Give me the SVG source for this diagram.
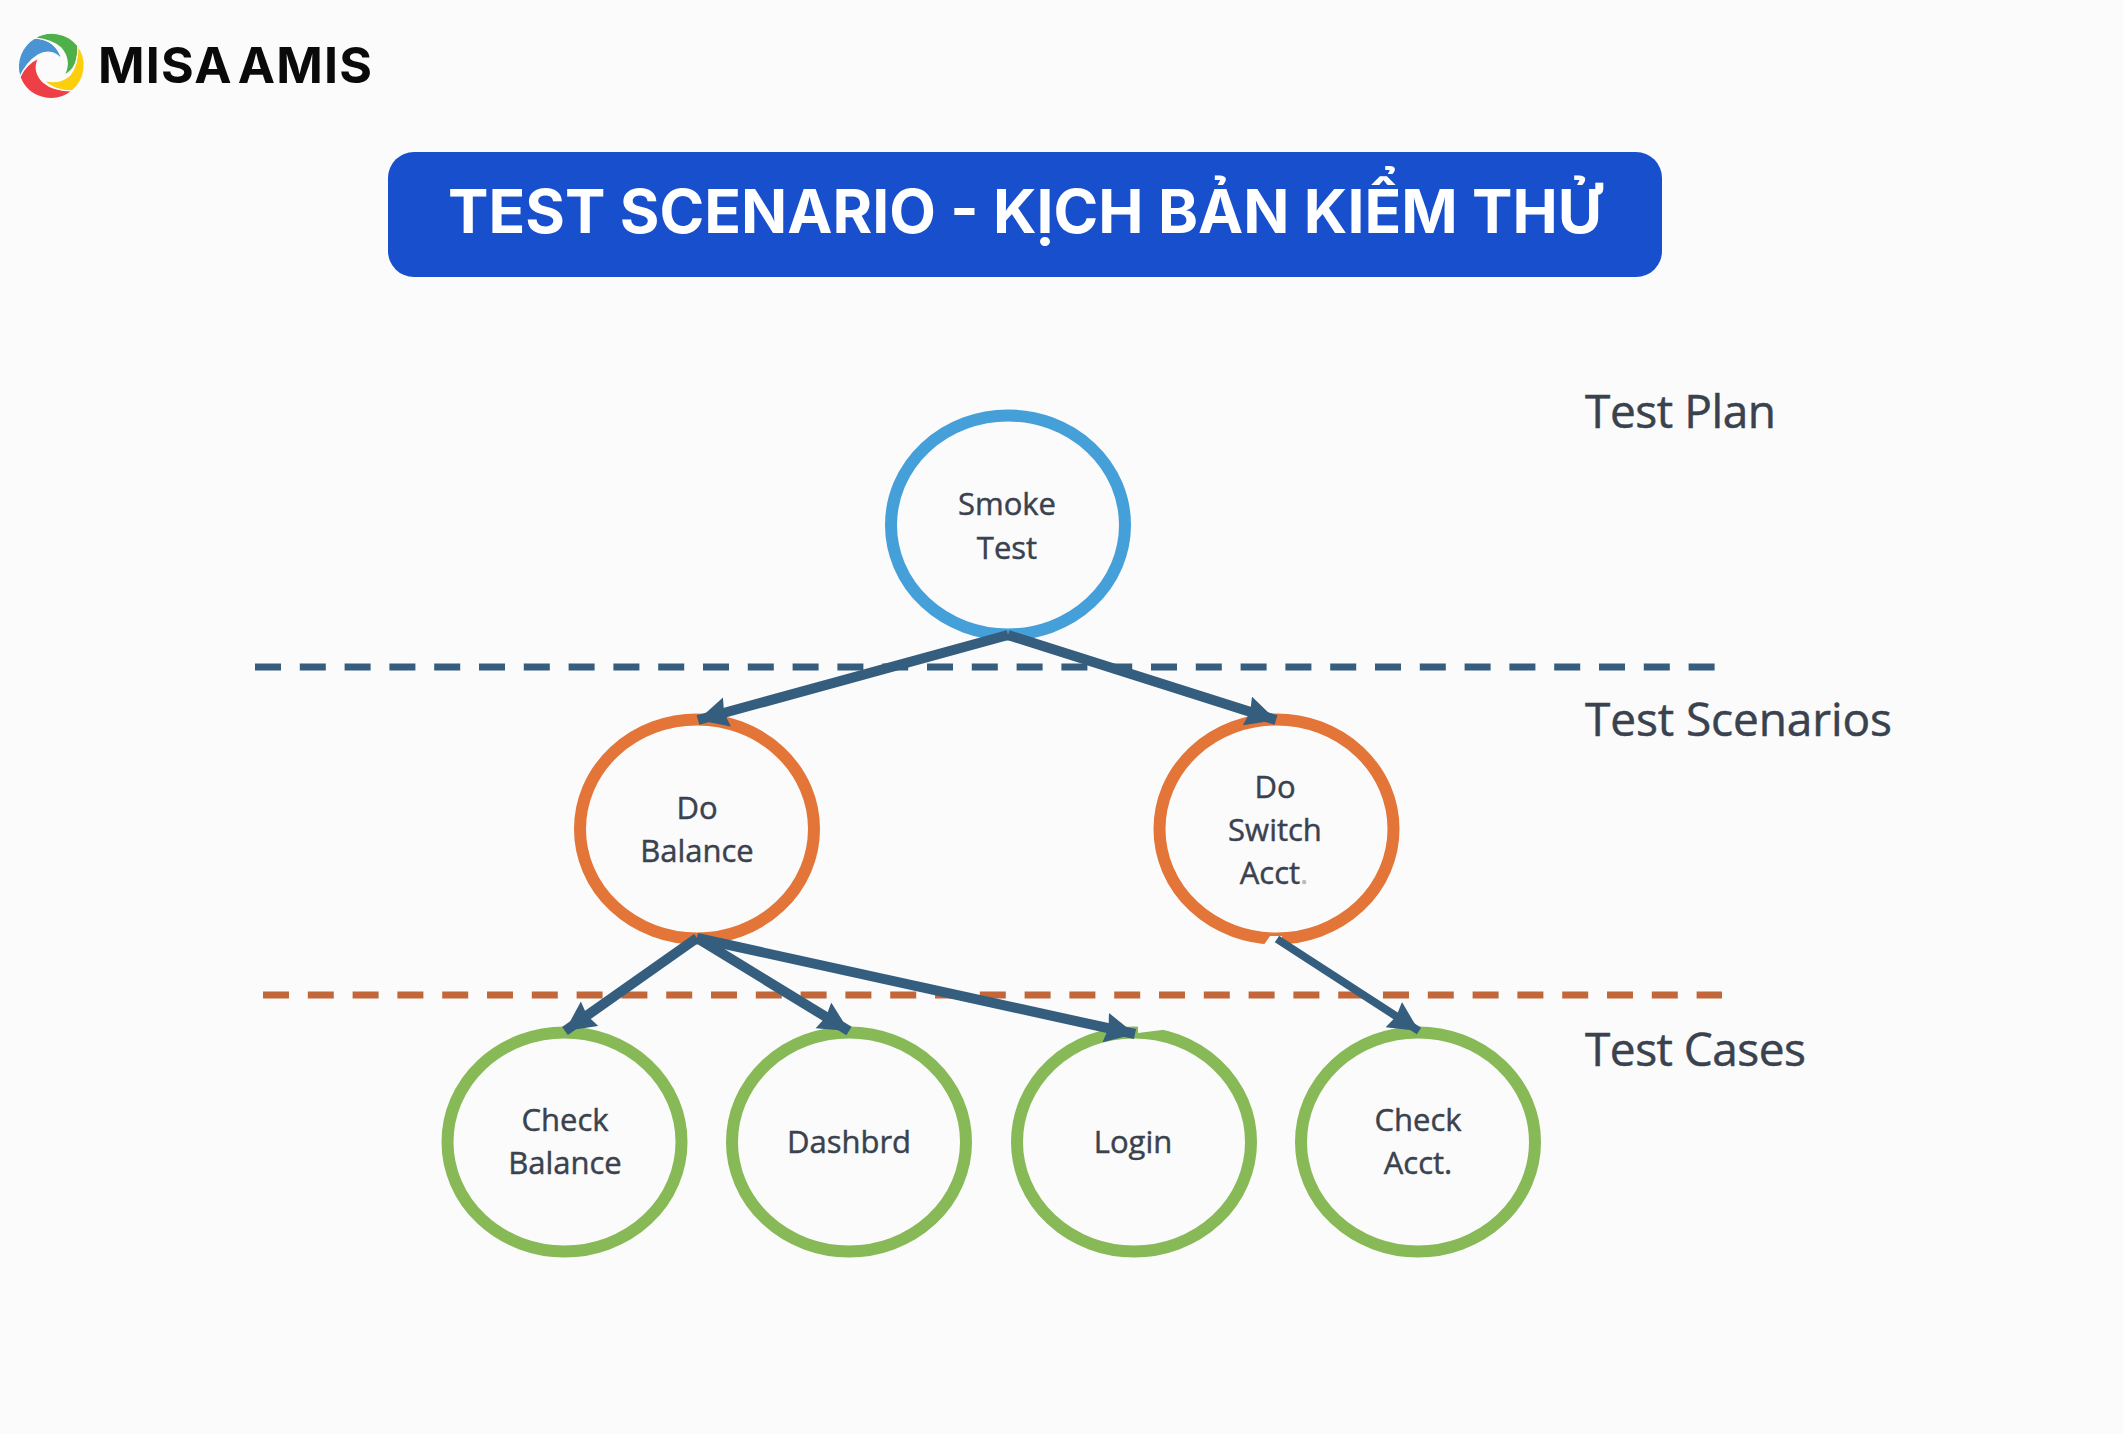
<svg xmlns="http://www.w3.org/2000/svg" width="2123" height="1434" viewBox="0 0 2123 1434">
<style>
.n{fill:none;stroke-width:12}
.t{font-family:"Open Sans","Noto Sans",sans-serif;font-size:31px;fill:#39424e;text-anchor:middle;stroke:#39424e;stroke-width:.45}
.l{font-family:"Open Sans","Noto Sans",sans-serif;font-size:46px;fill:#39424e;stroke:#39424e;stroke-width:.5}
.c{stroke:#345d7e;stroke-width:10;fill:none}
.blue{stroke:#459fd9}.or{stroke:#e27537}.gr{stroke:#87b957}
.s{stroke:#fbfbfb;stroke-width:1.2}
</style>
<defs><marker id="a" markerUnits="userSpaceOnUse" markerWidth="34" markerHeight="32" refX="30" refY="15" orient="auto"><path d="M0 0L30 15L0 30L3 15Z" fill="#345d7e"/></marker></defs>
<rect width="2123" height="1434" fill="#fbfbfb"/>
<g id="logo">
<path class="s" d="M20 77A33 33 0 0 1 35 38C47 39 58 45 62 60C55 50 45 51 38 55C30 60 24 68 20 77Z" fill="#4a94d3"/>
<path class="s" d="M35 38A33 33 0 0 1 78 46C78 58 76 70 64 75C70 65 67 55 61 48C55 42 45 39 35 38Z" fill="#4fb04a"/>
<path class="s" d="M78 46A33 33 0 0 1 72 91C60 91 50 87 43 80C52 83 62 82 70 75C76 68 78 58 78 46Z" fill="#fbcf0e"/>
<path class="s" d="M72 91A33 33 0 0 1 20 77C24 68 30 62 39 58C34 66 36 75 43 82C50 88 60 91 72 91Z" fill="#ee3f46"/>
<text x="98" y="83" font-family="Inter,'Liberation Sans',sans-serif" font-size="50" font-weight="700" fill="#0a0a0a" word-spacing="-8" textLength="274">MISA AMIS</text>
</g>
<g id="title">
<rect x="388" y="152" width="1274" height="125" rx="26" fill="#174fcd"/>
<text x="1025" y="233" text-anchor="middle" font-family="Inter,'Noto Sans',sans-serif" font-size="60" font-weight="700" fill="#fff" textLength="1154" lengthAdjust="spacingAndGlyphs">TEST SCENARIO - KỊCH BẢN KIỂM THỬ</text>
</g>
<g id="separators">
<line x1="255" y1="667" x2="1715" y2="667" stroke="#345d7e" stroke-width="7" stroke-dasharray="26 18.8"/>
<line x1="263" y1="995" x2="1722" y2="995" stroke="#c2673a" stroke-width="7" stroke-dasharray="26 18.8"/>
</g>
<g id="smoke"><ellipse class="n blue" cx="1008" cy="525" rx="117" ry="109.5"/><text class="t" x="1007" y="515">Smoke</text><text class="t" x="1007" y="559">Test</text></g>
<g id="do-balance"><ellipse class="n or" cx="697" cy="829" rx="117" ry="109.5"/><text class="t" x="697" y="819">Do</text><text class="t" x="697" y="862">Balance</text></g>
<g id="do-switch"><ellipse class="n or" cx="1276.500" cy="829" rx="117" ry="109.5"/><text class="t" x="1275" y="798">Do</text><text class="t" x="1275" y="841">Switch</text><text class="t" x="1274" y="884">Acct<tspan opacity=".35">.</tspan></text><path d="M1263 946L1270 936H1282V946Z" fill="#fbfbfb"/></g>
<g id="check-balance"><ellipse class="n gr" cx="564.500" cy="1142" rx="117" ry="109.5"/><text class="t" x="565" y="1131">Check</text><text class="t" x="565" y="1174">Balance</text></g>
<g id="dashbrd"><ellipse class="n gr" cx="849" cy="1142" rx="117" ry="109.5"/><text class="t" x="849" y="1153">Dashbrd</text></g>
<g id="login"><ellipse class="n gr" cx="1134" cy="1142" rx="117" ry="109.5"/><path d="M1138 1024H1165L1162 1030L1138 1033Z" fill="#fbfbfb"/><text class="t" x="1133" y="1153">Login</text></g>
<g id="check-acct"><ellipse class="n gr" cx="1418" cy="1142" rx="117" ry="109.5"/><text class="t" x="1418" y="1131">Check</text><text class="t" x="1418" y="1174">Acct.</text></g>
<g id="connectors">
<line class="c" x1="1008" y1="635" x2="698" y2="720" marker-end="url(#a)"/>
<line class="c" x1="1008" y1="635" x2="1276" y2="720" marker-end="url(#a)"/>
<line class="c" x1="697" y1="938" x2="565" y2="1031" marker-end="url(#a)"/>
<line class="c" x1="697" y1="938" x2="849" y2="1031" marker-end="url(#a)"/>
<line class="c" x1="697" y1="938" x2="1135" y2="1034" marker-end="url(#a)"/>
<line class="c" style="stroke-width:8" x1="1277" y1="939" x2="1419" y2="1031" marker-end="url(#a)"/>
</g>
<g id="labels"><text class="l" x="1585" y="428" textLength="191">Test Plan</text><text class="l" x="1585" y="736" textLength="307">Test Scenarios</text><text class="l" x="1585" y="1066" textLength="221">Test Cases</text></g>
</svg>
